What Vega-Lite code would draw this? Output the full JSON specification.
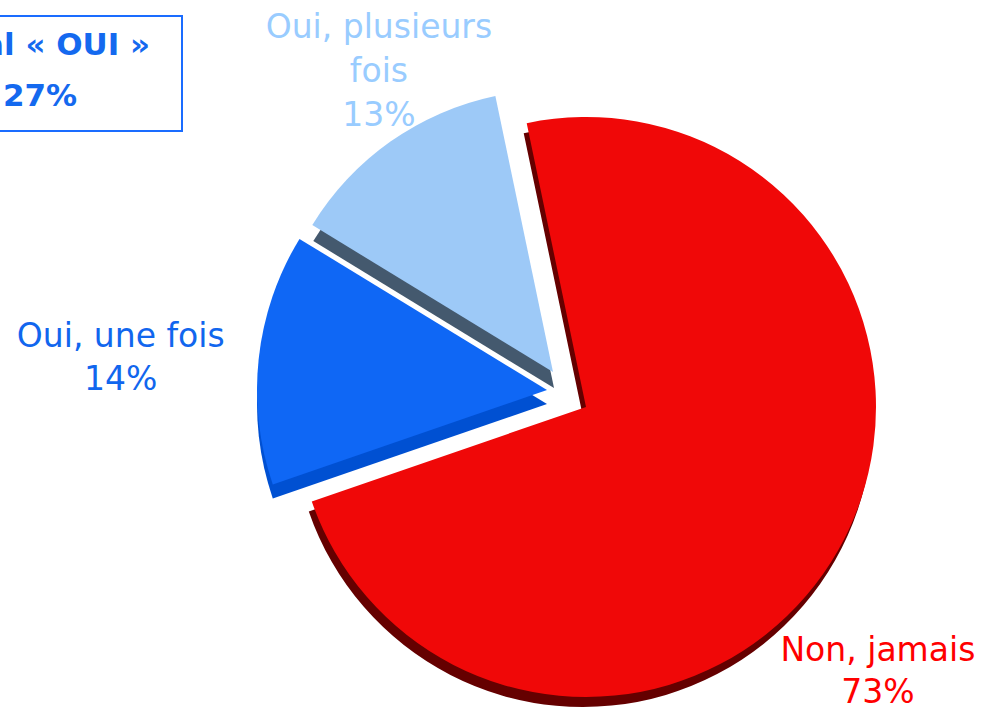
{
  "$schema": "https://vega.github.io/schema/vega-lite/v6.json",
  "width": 576,
  "height": 576,
  "autosize": {"type": "none"},
  "padding": {"left": 298, "top": 119, "right": 108, "bottom": 15},
  "background": "white",
  "config": {"view": {"stroke": null}},
  "datasets": {
    "responses": [
      {"cat": "Non, jamais", "value": 73, "label": "Non, jamais\n73%"},
      {"cat": "Oui, une fois", "value": 14, "label": "Oui, une fois\n14%"},
      {"cat": "Oui, plusieurs fois", "value": 13, "label": "Oui, plusieurs\nfois\n13%"}
    ],
    "total": [{"label": "Total « OUI »\n27%"}]
  },
  "layer": [
    {
      "data": {"name": "responses"},
      "mark": {"type": "arc", "outerRadius": 290, "xOffset": -3, "yOffset": 10},
      "encoding": {
        "theta": {"field": "value", "type": "quantitative", "stack": true, "scale": {"domain": [0, 100], "range": [-0.2059, 6.0773]}},
        "order": {"field": "value", "type": "quantitative", "sort": "descending"},
        "fill": {"condition": {"test": "datum.cat === 'Non, jamais'", "value": "#650000"}, "value": "transparent"}
      }
    },
    {
      "data": {"name": "responses"},
      "mark": {"type": "arc", "outerRadius": 290},
      "encoding": {
        "theta": {"field": "value", "type": "quantitative", "stack": true, "scale": {"domain": [0, 100], "range": [-0.2059, 6.0773]}},
        "order": {"field": "value", "type": "quantitative", "sort": "descending"},
        "fill": {"condition": {"test": "datum.cat === 'Non, jamais'", "value": "#f00808"}, "value": "transparent"}
      }
    },
    {
      "data": {"name": "responses"},
      "mark": {"type": "arc", "outerRadius": 290, "xOffset": -39, "yOffset": -3},
      "encoding": {
        "theta": {"field": "value", "type": "quantitative", "stack": true, "scale": {"domain": [0, 100], "range": [-0.2059, 6.0773]}},
        "order": {"field": "value", "type": "quantitative", "sort": "descending"},
        "fill": {"condition": {"test": "datum.cat === 'Oui, une fois'", "value": "#0050d2"}, "value": "transparent"}
      }
    },
    {
      "data": {"name": "responses"},
      "mark": {"type": "arc", "outerRadius": 290, "xOffset": -39, "yOffset": -17},
      "encoding": {
        "theta": {"field": "value", "type": "quantitative", "stack": true, "scale": {"domain": [0, 100], "range": [-0.2059, 6.0773]}},
        "order": {"field": "value", "type": "quantitative", "sort": "descending"},
        "fill": {"condition": {"test": "datum.cat === 'Oui, une fois'", "value": "#0f67f5"}, "value": "transparent"}
      }
    },
    {
      "data": {"name": "responses"},
      "mark": {"type": "arc", "outerRadius": 282, "xOffset": -32, "yOffset": -19},
      "encoding": {
        "theta": {"field": "value", "type": "quantitative", "stack": true, "scale": {"domain": [0, 100], "range": [-0.2059, 6.0773]}},
        "order": {"field": "value", "type": "quantitative", "sort": "descending"},
        "fill": {"condition": {"test": "datum.cat === 'Oui, plusieurs fois'", "value": "#44596e"}, "value": "transparent"}
      }
    },
    {
      "data": {"name": "responses"},
      "mark": {"type": "arc", "outerRadius": 282, "xOffset": -33, "yOffset": -35},
      "encoding": {
        "theta": {"field": "value", "type": "quantitative", "stack": true, "scale": {"domain": [0, 100], "range": [-0.2059, 6.0773]}},
        "order": {"field": "value", "type": "quantitative", "sort": "descending"},
        "fill": {"condition": {"test": "datum.cat === 'Oui, plusieurs fois'", "value": "#9dc9f7"}, "value": "transparent"}
      }
    },
    {
      "data": {"name": "responses"},
      "mark": {"type": "text", "radius": 384, "dx": -42, "dy": 54, "font": "DejaVu Sans", "fontSize": 33, "lineBreak": "\n", "lineHeight": 42, "align": "center", "baseline": "middle", "fill": "#ff0000"},
      "encoding": {
        "theta": {"field": "value", "type": "quantitative", "stack": true, "scale": {"domain": [0, 100], "range": [-0.2059, 6.0773]}},
        "order": {"field": "value", "type": "quantitative", "sort": "descending"},
        "text": {"field": "label", "type": "nominal"},
        "opacity": {"condition": {"test": "datum.cat === 'Non, jamais'", "value": 1}, "value": 0}
      }
    },
    {
      "data": {"name": "responses"},
      "mark": {"type": "text", "radius": 468, "dy": -19, "font": "DejaVu Sans", "fontSize": 33, "lineBreak": "\n", "lineHeight": 43, "align": "center", "baseline": "middle", "fill": "#1166ee"},
      "encoding": {
        "theta": {"field": "value", "type": "quantitative", "stack": true, "scale": {"domain": [0, 100], "range": [-0.2059, 6.0773]}},
        "order": {"field": "value", "type": "quantitative", "sort": "descending"},
        "text": {"field": "label", "type": "nominal"},
        "opacity": {"condition": {"test": "datum.cat === 'Oui, une fois'", "value": 1}, "value": 0}
      }
    },
    {
      "data": {"name": "responses"},
      "mark": {"type": "text", "radius": 394, "dx": 20, "dy": -57, "font": "DejaVu Sans", "fontSize": 33, "lineBreak": "\n", "lineHeight": 44, "align": "center", "baseline": "middle", "fill": "#99ccff"},
      "encoding": {
        "theta": {"field": "value", "type": "quantitative", "stack": true, "scale": {"domain": [0, 100], "range": [-0.2059, 6.0773]}},
        "order": {"field": "value", "type": "quantitative", "sort": "descending"},
        "text": {"field": "label", "type": "nominal"},
        "opacity": {"condition": {"test": "datum.cat === 'Oui, plusieurs fois'", "value": 1}, "value": 0}
      }
    },
    {
      "data": {"name": "total"},
      "mark": {"type": "rect", "fill": "transparent", "stroke": "#1a6cff", "strokeWidth": 2},
      "encoding": {"x": {"value": -400}, "x2": {"value": -116}, "y": {"value": -103}, "y2": {"value": 12}}
    },
    {
      "data": {"name": "total"},
      "mark": {"type": "text", "font": "DejaVu Sans", "fontWeight": "bold", "fontSize": 31, "fill": "#1469ef", "lineBreak": "\n", "lineHeight": 51, "align": "center", "baseline": "middle"},
      "encoding": {"x": {"value": -258}, "y": {"value": -73}, "text": {"field": "label", "type": "nominal"}}
    }
  ]
}
